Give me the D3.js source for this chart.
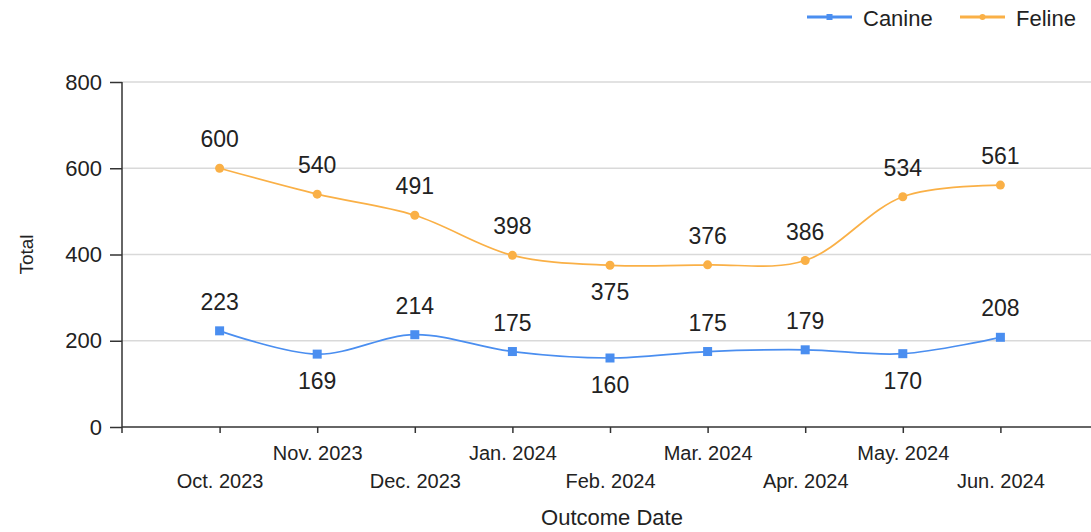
<!DOCTYPE html>
<html>
<head>
<meta charset="utf-8">
<script src="https://cdn.jsdelivr.net/npm/d3@7"></script>
<style>
  body { margin: 0; background: #fff; }
  text { font-family: "Liberation Sans", Arial, sans-serif; fill: #222; }
</style>
</head>
<body>
<div id="chart"></div>
<script>
const months = ['Oct. 2023', 'Nov. 2023', 'Dec. 2023', 'Jan. 2024', 'Feb. 2024', 'Mar. 2024', 'Apr. 2024', 'May. 2024', 'Jun. 2024'];
const canine = [223, 169, 214, 175, 160, 175, 179, 170, 208];
const feline = [600, 540, 491, 398, 375, 376, 386, 534, 561];
const yTicks = [0, 200, 400, 600, 800];

const series = [
  { name: 'Canine', values: canine, color: '#4a8ef0', marker: 'square' },
  { name: 'Feline', values: feline, color: '#fab046', marker: 'circle' }
];

const width = 1091, height = 532;
const margin = { top: 82, right: 0, bottom: 105, left: 122 };

const svg = d3.select('#chart').append('svg')
  .attr('width', width)
  .attr('height', height);

const x = d3.scalePoint()
  .domain(months)
  .range([margin.left, margin.left + 976])
  .padding(1);

const y = d3.scaleLinear()
  .domain([0, 800])
  .range([height - margin.bottom, margin.top]);

// grid
svg.append('g')
  .selectAll('line')
  .data(yTicks.filter(d => d > 0))
  .join('line')
    .attr('x1', margin.left)
    .attr('x2', width)
    .attr('y1', d => y(d))
    .attr('y2', d => y(d))
    .attr('stroke', '#d9d9d9')
    .attr('stroke-width', 1.5);

// y axis
const yAxis = svg.append('g')
  .attr('transform', `translate(${margin.left},0)`)
  .call(d3.axisLeft(y).tickValues(yTicks).tickSize(12).tickPadding(8));
yAxis.select('.domain').remove();
yAxis.selectAll('line').attr('stroke', '#333').attr('stroke-width', 1.5);
yAxis.selectAll('text')
  .style('font-family', '"Liberation Sans", Arial, sans-serif')
  .style('font-size', '22px')
  .attr('fill', '#222');
svg.append('line')
  .attr('x1', margin.left).attr('x2', margin.left)
  .attr('y1', y(800)).attr('y2', y(0) + 6)
  .attr('stroke', '#333').attr('stroke-width', 1.5);

// x axis
const xAxis = svg.append('g')
  .attr('transform', `translate(0,${y(0)})`)
  .call(d3.axisBottom(x).tickSize(6).tickSizeOuter(0));
xAxis.select('.domain').remove();
xAxis.selectAll('line').attr('stroke', '#333').attr('stroke-width', 1.5);
xAxis.selectAll('text')
  .style('font-family', '"Liberation Sans", Arial, sans-serif')
  .style('font-size', '20px')
  .attr('fill', '#222')
  .attr('dy', null)
  .attr('y', (d, i) => i % 2 === 1 ? 33 : 61);
svg.append('line')
  .attr('x1', margin.left).attr('x2', width)
  .attr('y1', y(0)).attr('y2', y(0))
  .attr('stroke', '#333').attr('stroke-width', 1.5);

// axis titles
svg.append('text')
  .attr('x', 612)
  .attr('y', 525)
  .attr('text-anchor', 'middle')
  .style('font-size', '22px')
  .text('Outcome Date');

svg.append('text')
  .attr('transform', `translate(33,${(y(0) + y(800)) / 2}) rotate(-90)`)
  .attr('text-anchor', 'middle')
  .style('font-size', '19px')
  .text('Total');

// lines
const line = d3.line()
  .x((d, i) => x(months[i]))
  .y(d => y(d))
  .curve(d3.curveCatmullRom.alpha(0.5));

series.forEach(s => {
  const g = svg.append('g');
  g.append('path')
    .attr('d', line(s.values))
    .attr('fill', 'none')
    .attr('stroke', s.color)
    .attr('stroke-width', 1.7);

  if (s.marker === 'square') {
    g.selectAll('rect')
      .data(s.values)
      .join('rect')
        .attr('x', (d, i) => x(months[i]) - 4.5)
        .attr('y', d => y(d) - 4.5)
        .attr('width', 9)
        .attr('height', 9)
        .attr('fill', s.color);
  } else {
    g.selectAll('circle')
      .data(s.values)
      .join('circle')
        .attr('cx', (d, i) => x(months[i]))
        .attr('cy', d => y(d))
        .attr('r', 4.5)
        .attr('fill', s.color);
  }

  // labels: below the point at local minima, above otherwise
  g.selectAll('text')
    .data(s.values)
    .join('text')
      .attr('x', (d, i) => x(months[i]))
      .attr('y', (d, i) => {
        const v = s.values;
        const isMin = i > 0 && i < v.length - 1 && d < v[i - 1] && d < v[i + 1];
        return isMin ? y(d) + 35 : y(d) - 21;
      })
      .attr('text-anchor', 'middle')
      .style('font-size', '23px')
      .text(d => d);
});

// legend
const legendPos = [807, 960];
series.forEach((s, i) => {
  const lg = svg.append('g').attr('transform', `translate(${legendPos[i]},17)`);
  lg.append('line')
    .attr('x1', 0).attr('x2', 45)
    .attr('stroke', s.color).attr('stroke-width', 3);
  if (s.marker === 'square') {
    lg.append('rect').attr('x', 19.5).attr('y', -3).attr('width', 6).attr('height', 6).attr('fill', s.color);
  } else {
    lg.append('circle').attr('cx', 22.5).attr('r', 3).attr('fill', s.color);
  }
  lg.append('text')
    .attr('x', 56)
    .attr('y', 9)
    .style('font-size', '22px')
    .text(s.name);
});
</script>
</body>
</html>
